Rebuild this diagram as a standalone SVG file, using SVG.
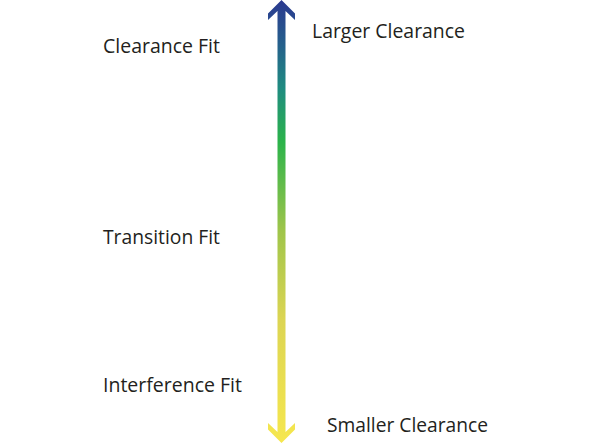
<svg xmlns="http://www.w3.org/2000/svg" width="592" height="444" viewBox="0 0 592 444">
<defs>
<linearGradient id="g" gradientUnits="userSpaceOnUse" x1="0" y1="0" x2="0" y2="444">
<stop offset="0" stop-color="#2b3990"/>
<stop offset="0.1" stop-color="#25608c"/>
<stop offset="0.2" stop-color="#1f8c80"/>
<stop offset="0.32" stop-color="#2bb34a"/>
<stop offset="0.52" stop-color="#9fc54a"/>
<stop offset="0.72" stop-color="#dcd553"/>
<stop offset="1" stop-color="#f6e74e"/>
</linearGradient>
<style>
.t{font-family:"Open Sans","Liberation Sans",sans-serif;font-size:19.5px;fill:#231f20}
</style>
</defs>
<g id="connectors">
<path fill="url(#g)" d="M281.5,0 L295,13.5 L295,20 L285.5,11 L285.5,432 L295,423 L295,429.5 L281.5,443 L268,429.5 L268,423 L277.5,432 L277.5,11 L268,20 L268,13.5 Z"/>
</g>
<g id="larger"><text class="t" x="312" y="38" textLength="153" lengthAdjust="spacingAndGlyphs">Larger Clearance</text></g>
<g id="clearance"><text class="t" x="103" y="53" textLength="117" lengthAdjust="spacingAndGlyphs">Clearance Fit</text></g>
<g id="transition"><text class="t" x="103" y="244" textLength="117" lengthAdjust="spacingAndGlyphs">Transition Fit</text></g>
<g id="interference"><text class="t" x="103" y="392" textLength="139" lengthAdjust="spacingAndGlyphs">Interference Fit</text></g>
<g id="smaller"><text class="t" x="327" y="432" textLength="161" lengthAdjust="spacingAndGlyphs">Smaller Clearance</text></g>
</svg>
